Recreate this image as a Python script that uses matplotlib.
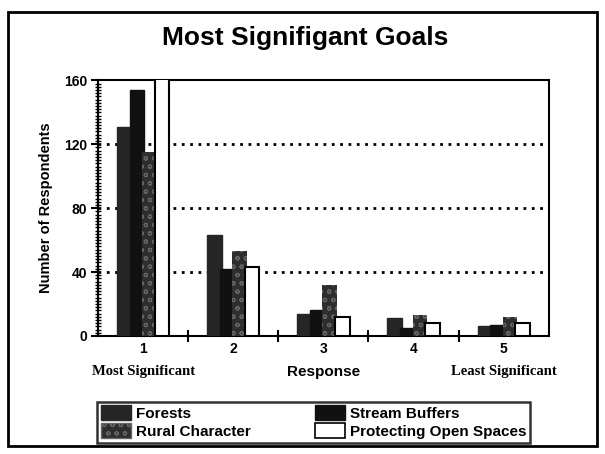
import numpy as np
import matplotlib.pyplot as plt
from matplotlib.patches import Rectangle, Patch
from matplotlib.ticker import MultipleLocator, FixedLocator

# Data
responses = ['1', '2', '3', '4', '5']
forests = [131, 63, 14, 11, 6]
stream_buffers = [154, 42, 16, 5, 7]
rural_character = [115, 53, 32, 13, 12]
open_spaces = [165, 43, 12, 8, 8]

plt.rcParams['font.family'] = ['Liberation Sans', 'DejaVu Sans']
plt.rcParams['hatch.linewidth'] = 0.8

fig = plt.figure(figsize=(6.05, 4.54), dpi=100)
ax = fig.add_axes([0.162, 0.26, 0.745, 0.563])

x = np.arange(len(responses))
w = 0.16
step = 0.14

ax.bar(x - 1.5 * step, forests, w, color='#262626', edgecolor='#262626', zorder=3)
ax.bar(x - 0.5 * step, stream_buffers, w, color='#111111', edgecolor='#111111', zorder=3)
ax.bar(x + 0.5 * step, rural_character, w, color='#2e2e2e', edgecolor='#666666',
       hatch='oo', linewidth=0, zorder=3)
ax.bar(x + 1.5 * step, open_spaces, w, color='white', edgecolor='black',
       linewidth=1.5, zorder=4)

ax.set_xlim(-0.5, 4.5)
ax.set_ylim(0, 160)

# dotted gridlines
for v in [40, 80, 120]:
    ax.axhline(v, color='black', linewidth=2, linestyle=(0, (1, 2)), zorder=1)

ax.yaxis.set_major_locator(MultipleLocator(40))
ax.yaxis.set_minor_locator(MultipleLocator(2))
ax.tick_params(axis='y', which='major', direction='out', length=5, width=1.5,
               labelsize=10, pad=3)
ax.tick_params(axis='y', which='minor', direction='inout', length=5, width=1)
for lab in ax.get_yticklabels():
    lab.set_fontweight('bold')

ax.set_xticks(x)
ax.set_xticklabels(responses, fontweight='bold', fontsize=10)
ax.xaxis.set_minor_locator(FixedLocator([0.5, 1.5, 2.5, 3.5]))
ax.tick_params(axis='x', which='major', length=0, pad=4)
ax.tick_params(axis='x', which='minor', direction='inout', length=8, width=1.5)

for s in ax.spines.values():
    s.set_linewidth(1.5)

ax.set_ylabel('Number of Respondents', fontweight='bold', fontsize=10.5, labelpad=8)

ax.text(0, -0.14, 'Most Significant', transform=ax.get_xaxis_transform(),
        ha='center', va='center', fontsize=10.5, fontweight='bold',
        family='Liberation Serif')
ax.text(2, -0.14, 'Response', transform=ax.get_xaxis_transform(),
        ha='center', va='center', fontsize=11, fontweight='bold')
ax.text(4, -0.14, 'Least Significant', transform=ax.get_xaxis_transform(),
        ha='center', va='center', fontsize=10.5, fontweight='bold',
        family='Liberation Serif')

fig.text(0.505, 0.917, 'Most Signifigant Goals', ha='center', va='center',
         fontsize=19, fontweight='bold')

handles = [
    Patch(facecolor='#262626', edgecolor='#262626', label='Forests'),
    Patch(facecolor='#2e2e2e', edgecolor='#666666', hatch='oo', label='Rural Character'),
    Patch(facecolor='#111111', edgecolor='#111111', label='Stream Buffers'),
    Patch(facecolor='white', edgecolor='black', linewidth=1.2, label='Protecting Open Spaces'),
]
leg = fig.legend(handles=handles, ncol=2, loc='lower left',
                 bbox_to_anchor=(0.16, 0.025),
                 frameon=True, fancybox=False, edgecolor='black',
                 prop={'weight': 'bold', 'size': 11}, handlelength=2.0,
                 handleheight=1.1, handletextpad=0.3, labelspacing=0.15,
                 columnspacing=4.2, borderpad=0.25, borderaxespad=0)
leg.get_frame().set_linewidth(1.8)

fig.patches.append(Rectangle((0.014, 0.018), 0.972, 0.955, transform=fig.transFigure,
                             fill=False, edgecolor='black', linewidth=2))

fig.savefig('out.png', dpi=100)
